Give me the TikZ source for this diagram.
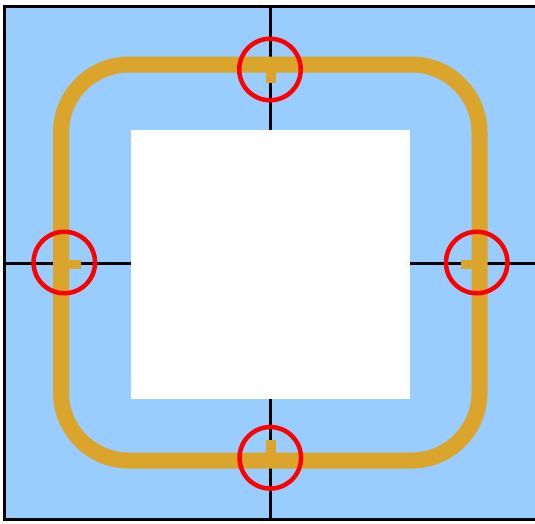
\documentclass[tikz,border=0pt]{standalone}
\usetikzlibrary{calc}
\definecolor{bgblue}{HTML}{99CCFF}
\definecolor{gold}{HTML}{DAA52A}
\tikzset{
  axis/.style={black, line width=3pt},
  band/.style={gold, line width=16pt, rounded corners=68pt},
  tab/.style={fill=gold, draw=none},
  marker/.style={red, line width=4.5pt},
}
\begin{document}
\begin{tikzpicture}[x=1pt,y=-1pt]
\useasboundingbox (0,0) rectangle (535,523);
\clip (0,0) rectangle (535,523);
% background panel
\fill[bgblue] (4.5,6) rectangle (540,519);
\draw[axis] (540,6) -- (4.5,6) -- (4.5,519) -- (540,519);
% axes
\coordinate (L) at (4.5,263);
\coordinate (R) at (540,263);
\coordinate (T) at (270,6);
\coordinate (B) at (270,519);
\draw[axis] (L) -- (R);
\draw[axis] (T) -- (B);
% white hole
\fill[white] (131,130) rectangle (410,399);
% gold band
\draw[band] (61,64.5) rectangle (479.5,460.5);
% tabs
\fill[tab] (265.5,70) rectangle (275.5,83);
\fill[tab] (67,259.5) rectangle (80.5,268.5);
\fill[tab] (461,259.5) rectangle (473,268.5);
\fill[tab] (266,440) rectangle (276,455);
% red markers
\node[draw=red, line width=4.5pt, circle, minimum size=61.5pt, inner sep=0pt] (ct) at (270,69.5) {};
\node[draw=red, line width=4.5pt, circle, minimum size=61.5pt, inner sep=0pt] (cl) at (64.3,262.5) {};
\node[draw=red, line width=4.5pt, circle, minimum size=61.5pt, inner sep=0pt] (cr) at (476.7,262.5) {};
\node[draw=red, line width=4.5pt, circle, minimum size=61.5pt, inner sep=0pt] (cb) at (270.3,457.8) {};
\end{tikzpicture}
\end{document}
